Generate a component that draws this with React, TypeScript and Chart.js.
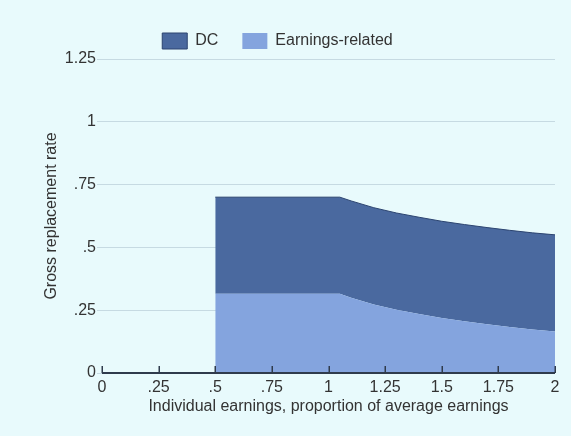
import React, { useEffect, useRef } from "react";
import { Chart, registerables } from "chart.js";

Chart.register(...registerables);

// Individual earnings (multiple of average earnings)
const xEarnings = [0.5, 1.05, 1.1, 1.2, 1.3, 1.4, 1.5, 1.6, 1.7, 1.8, 1.9, 2.0];
// Gross replacement rate components
const earningsRelated = [0.315, 0.315, 0.3, 0.273, 0.252, 0.235, 0.219, 0.206, 0.194, 0.183, 0.173, 0.165];
const dcRate = [0.385, 0.385, 0.385, 0.385, 0.385, 0.385, 0.385, 0.385, 0.385, 0.385, 0.385, 0.385];

const seriesNames = ["DC", "Earnings-related"];
const xTickLabels = ["0", ".25", ".5", ".75", "1", "1.25", "1.5", "1.75", "2"];
const yTickLabels = ["0", ".25", ".5", ".75", "1", "1.25"];

const BG = "#E8FAFC";
const DC_COLOR = "#4A699F";
const DC_BORDER = "#2C4470";
const ER_COLOR = "#84A4DE";
const TEXT = "#333333";
const AXIS = "#2F3B4C";
const GRID = "#C6DAE2";
const FONT = "'Liberation Sans', Arial, sans-serif";

const axisPlugin = {
  id: "axisAndTicks",
  afterDatasetsDraw(chart: any) {
    const { ctx, chartArea, scales } = chart;
    const xs = scales.x;
    ctx.save();
    ctx.strokeStyle = AXIS;
    ctx.lineWidth = 2;
    ctx.beginPath();
    ctx.moveTo(chartArea.left, chartArea.bottom);
    ctx.lineTo(chartArea.right, chartArea.bottom);
    ctx.stroke();
    ctx.lineWidth = 1.5;
    xs.ticks.forEach((t: any) => {
      const px = Math.round(xs.getPixelForValue(t.value)) + 0.25;
      ctx.beginPath();
      ctx.moveTo(px, chartArea.bottom);
      ctx.lineTo(px, chartArea.bottom - 7);
      ctx.stroke();
    });
    ctx.restore();
  },
};

export default function App() {
  const ref = useRef<HTMLCanvasElement | null>(null);

  useEffect(() => {
    document.body.style.margin = "0";
    document.body.style.background = BG;
    if (!ref.current) return;
    const erPoints = xEarnings.map((x, i) => ({ x, y: earningsRelated[i] }));
    const dcPoints = xEarnings.map((x, i) => ({ x, y: dcRate[i] }));
    const chart = new Chart(ref.current, {
      type: "line",
      data: {
        datasets: [
          {
            label: seriesNames[1],
            data: erPoints,
            backgroundColor: ER_COLOR,
            borderColor: ER_COLOR,
            borderWidth: 0,
            fill: "origin",
            pointRadius: 0,
            tension: 0,
          },
          {
            label: seriesNames[0],
            data: dcPoints,
            backgroundColor: DC_COLOR,
            borderColor: DC_BORDER,
            borderWidth: 1,
            fill: "-1",
            pointRadius: 0,
            tension: 0,
          },
        ],
      },
      options: {
        responsive: false,
        animation: false,
        maintainAspectRatio: false,
        layout: { padding: { top: 3, right: 16, bottom: 0, left: 0 } },
        plugins: {
          tooltip: { enabled: false },
          legend: {
            position: "top",
            reverse: true,
            labels: {
              font: { family: FONT, size: 16 },
              color: TEXT,
              boxWidth: 25,
              boxHeight: 16,
              padding: 24,
            },
          },
        },
        scales: {
          x: {
            type: "linear",
            min: 0,
            max: 2,
            grid: { display: false, drawTicks: false },
            border: { display: false },
            ticks: {
              stepSize: 0.25,
              padding: 5,
              color: TEXT,
              font: { family: FONT, size: 16 },
              maxRotation: 0,
              autoSkip: false,
              callback: (_v: any, i: number) => xTickLabels[i],
            },
            title: {
              display: true,
              text: "Individual earnings, proportion of average earnings",
              color: TEXT,
              font: { family: FONT, size: 16 },
              padding: { top: 0, bottom: 20 },
            },
            afterFit: (s: any) => {
              s.height = 63;
            },
          },
          y: {
            stacked: true,
            min: 0,
            max: 1.25,
            grid: { color: GRID, lineWidth: 1, drawTicks: true, tickLength: 5 },
            border: { display: false },
            ticks: {
              stepSize: 0.25,
              padding: 1,
              color: TEXT,
              font: { family: FONT, size: 16 },
              callback: (_v: any, i: number) => yTickLabels[i],
            },
            title: {
              display: true,
              text: "Gross replacement rate",
              color: TEXT,
              font: { family: FONT, size: 16 },
              padding: { top: 42, bottom: 0 },
            },
            afterFit: (s: any) => {
              s.width = 102;
              s.paddingTop = 59;
            },
          },
        },
      },
      plugins: [axisPlugin],
    });
    return () => chart.destroy();
  }, []);

  return (
    <div style={{ width: 571, height: 436, background: BG }}>
      <canvas ref={ref} width={571} height={436} style={{ display: "block", width: 571, height: 436 }} />
    </div>
  );
}
